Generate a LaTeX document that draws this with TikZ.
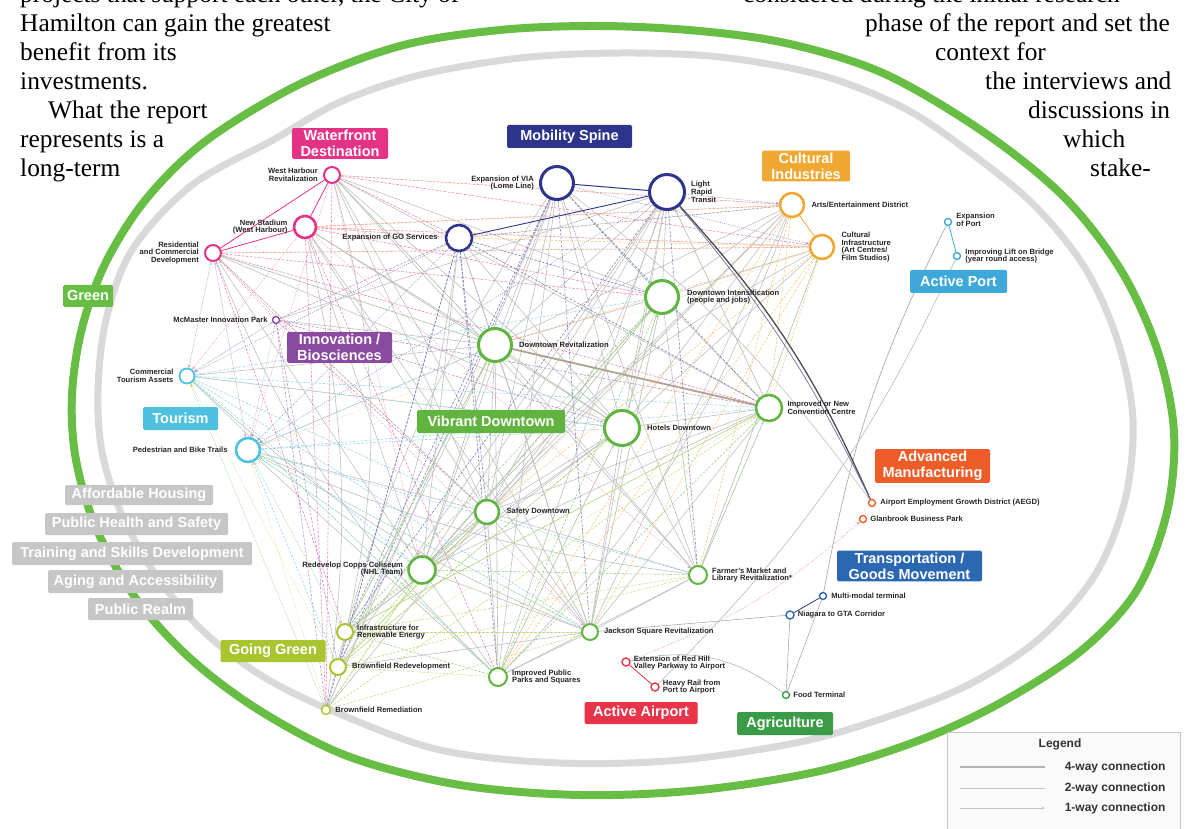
\documentclass[tikz,border=0pt]{standalone}
\usepackage{fontspec}
\setmainfont{Liberation Serif}
\setsansfont{Liberation Sans}
\usetikzlibrary{positioning,arrows.meta,backgrounds}

% theme colours
\definecolor{waterc}{RGB}{228,50,134}
\definecolor{mobc}{RGB}{45,52,140}
\definecolor{culc}{RGB}{240,168,50}
\definecolor{portc}{RGB}{62,168,219}
\definecolor{innoc}{RGB}{138,74,160}
\definecolor{tourc}{RGB}{78,192,224}
\definecolor{vibc}{RGB}{98,180,65}
\definecolor{goc}{RGB}{168,196,46}
\definecolor{airc}{RGB}{230,52,72}
\definecolor{manc}{RGB}{238,92,42}
\definecolor{tranc}{RGB}{44,104,178}
\definecolor{agric}{RGB}{58,156,70}
\definecolor{themec}{RGB}{198,198,198}
\definecolor{ringc}{RGB}{104,190,68}

\newcommand\bodytext{\rmfamily\fontsize{25.4}{29}\selectfont}
\newcommand\projfont{\sffamily\bfseries\fontsize{7.6}{7.8}\selectfont}
\newcommand\catfont{\sffamily\bfseries\fontsize{14.5}{16}\selectfont}
\newcommand\legfont{\sffamily\bfseries\fontsize{12}{13}\selectfont}

\tikzset{
  proj/.style={circle, draw=#1, fill=white, line width=2.6pt, inner sep=0pt},
  spot/.style={circle, draw=#1, fill=white, line width=1.4pt, inner sep=0pt, minimum size=7pt},
  lbl/.style={font=\projfont, inner sep=1pt, text=black!85},
  lblr/.style={lbl, align=left},
  lbll/.style={lbl, align=right},
  cat/.style={fill=#1, text=white, font=\catfont, rounded corners=1.5pt, align=center, inner sep=2pt, minimum height=23pt},
  fourway/.style={draw=gray!50, line width=0.6pt},
  twoway/.style={draw=#1!65, line width=0.55pt, dash pattern=on 2.5pt off 1.5pt},
  oneway/.style={draw=#1!55, line width=0.5pt, dash pattern=on 1pt off 1.2pt, -{Stealth[length=3.2pt,width=2.8pt]}},
  body/.style={font=\bodytext, anchor=base west, inner sep=0pt},
}

\begin{document}
\begin{tikzpicture}[x=1pt, y=-1pt]
\useasboundingbox (0,0) rectangle (1187,829);

% running text of the page
\node[body] at (20,3) {projects that support each other, the City of};
\node[body] at (20,32) {Hamilton can gain the greatest};
\node[body] at (20,61) {benefit from its};
\node[body] at (20,90) {investments.};
\node[body] at (48,119) {What the report};
\node[body] at (20,148) {represents is a};
\node[body] at (20,177) {long-term};
\node[body] at (743,3) {considered during the initial research};
\node[body] at (865,32) {phase of the report and set the};
\node[body] at (935,61) {context for};
\node[body] at (985,90) {the interviews and};
\node[body] at (1028,119) {discussions in};
\node[body] at (1063,148) {which};
\node[body] at (1090,177) {stake-};

% waterfront destination
\node[proj=waterc, minimum size=16pt, line width=2pt] (wh) at (332,175) {};
\node[proj=waterc, minimum size=22pt] (ns) at (305,227) {};
\node[proj=waterc, minimum size=16pt, line width=2pt] (rcd) at (213,253) {};
% mobility spine
\node[proj=mobc, minimum size=26pt] (go) at (459,238) {};
\node[proj=mobc, minimum size=33pt, line width=3pt] (via) at (557,183) {};
\node[proj=mobc, minimum size=35pt, line width=3pt] (lrt) at (667,192) {};
% cultural industries
\node[proj=culc, minimum size=24pt] (arts) at (792,205) {};
\node[proj=culc, minimum size=24pt] (cult) at (822,247) {};
% active port
\node[spot=portc] (port) at (948,222) {};
\node[spot=portc] (lift) at (957,256) {};
% innovation, tourism
\node[spot=innoc] (mip) at (276,320) {};
\node[proj=tourc, minimum size=15pt, line width=1.8pt] (cta) at (187,376) {};
\node[proj=tourc, minimum size=24pt] (pbt) at (248,450) {};
% vibrant downtown
\node[proj=vibc, minimum size=33pt, line width=3pt] (di) at (662,297) {};
\node[proj=vibc, minimum size=33pt, line width=3pt] (dr) at (495,345) {};
\node[proj=vibc, minimum size=35pt, line width=3pt] (hd) at (622,428) {};
\node[proj=vibc, minimum size=26pt] (cc) at (769,408) {};
\node[proj=vibc, minimum size=24pt] (sd) at (487,512) {};
\node[proj=vibc, minimum size=27pt] (copps) at (422,570) {};
\node[proj=vibc, minimum size=18pt, line width=2pt] (fm) at (698,575) {};
\node[proj=vibc, minimum size=16pt, line width=2pt] (js) at (590,632) {};
\node[proj=vibc, minimum size=18pt, line width=2pt] (parks) at (498,677) {};
% going green
\node[proj=goc, minimum size=16pt, line width=2pt] (ire) at (345,632) {};
\node[proj=goc, minimum size=16pt, line width=2pt] (brd) at (338,667) {};
\node[spot=goc, minimum size=9pt] (brm) at (326,710) {};
% airport, manufacturing, goods movement, agriculture
\node[spot=airc, minimum size=8pt] (rh) at (626,662) {};
\node[spot=airc, minimum size=8pt] (hr) at (655,687) {};
\node[spot=manc] (aegd) at (872,503) {};
\node[spot=manc] (glan) at (863,519) {};
\node[spot=tranc] (mmt) at (823,596) {};
\node[spot=tranc, minimum size=8pt] (niag) at (790,615) {};
\node[spot=agric] (food) at (786,695) {};

% project labels
\node[lbll, left=4pt of wh] {West Harbour\\Revitalization};
\node[lbll, left=4pt of ns] {New Stadium\\(West Harbour)};
\node[lbll, left=4pt of rcd] {Residential\\and Commercial\\Development};
\node[lbll, left=6pt of go] {Expansion of GO Services};
\node[lbll, left=4pt of via] {Expansion of VIA\\(Lome Line)};
\node[lblr, right=4pt of lrt] {Light\\Rapid\\Transit};
\node[lblr, right=5pt of arts] {Arts/Entertainment District};
\node[lblr, right=5pt of cult] {Cultural\\Infrastructure\\(Art Centres/\\Film Studios)};
\node[lblr, right=3pt of port, yshift=2pt] {Expansion\\of Port};
\node[lblr, right=3pt of lift] {Improving Lift on Bridge\\(year round access)};
\node[lbll, left=3pt of mip] {McMaster Innovation Park};
\node[lbll, left=4pt of cta] {Commercial\\Tourism Assets};
\node[lbll, left=6pt of pbt] {Pedestrian and Bike Trails};
\node[lblr, right=6pt of di] {Downtown Intensification\\(people and jobs)};
\node[lblr, right=5pt of dr] {Downtown Revitalization};
\node[lblr, right=5pt of hd] {Hotels Downtown};
\node[lblr, right=3pt of cc] {Improved or New\\Convention Centre};
\node[lblr, right=5pt of sd] {Safety Downtown};
\node[lbll, left=3pt of copps, yshift=1pt] {Redevelop Copps Coliseum\\(NHL Team)};
\node[lblr, right=3pt of fm] {Farmer's Market and\\Library Revitalization*};
\node[lblr, right=4pt of js] {Jackson Square Revitalization};
\node[lblr, right=3pt of parks] {Improved Public\\Parks and Squares};
\node[lblr, right=2pt of ire] {Infrastructure for\\Renewable Energy};
\node[lblr, right=4pt of brd] {Brownfield Redevelopment};
\node[lblr, right=3pt of brm] {Brownfield Remediation};
\node[lblr, right=2pt of rh, yshift=-1pt] {Extension of Red Hill\\Valley Parkway to Airport};
\node[lblr, right=2pt of hr] {Heavy Rail from\\Port to Airport};
\node[lblr, right=3pt of aegd] {Airport Employment Growth District (AEGD)};
\node[lblr, right=2pt of glan] {Glanbrook Business Park};
\node[lblr, right=3pt of mmt] {Multi-modal terminal};
\node[lblr, right=2pt of niag] {Niagara to GTA Corridor};
\node[lblr, right=2pt of food] {Food Terminal};

% theme boxes
\node[cat=waterc, minimum width=96pt] (waterbox) at (340,143.5) {Waterfront\\Destination};
\node[cat=mobc, minimum width=125pt] (mobbox) at (569.5,136.5) {Mobility Spine};
\node[cat=culc, minimum width=88pt] (culbox) at (806,166) {Cultural\\Industries};
\node[cat=portc, minimum width=97pt] (portbox) at (958.5,281.5) {Active Port};
\node[cat=innoc, minimum width=105pt] (innobox) at (339.5,347.5) {Innovation /\\Biosciences};
\node[cat=tourc, minimum width=75pt] (tourbox) at (180.5,418.5) {Tourism};
\node[cat=vibc, minimum width=148pt] (vibbox) at (491,421.5) {Vibrant Downtown};
\node[cat=goc, minimum width=105pt, minimum height=22pt] (gobox) at (273,651) {Going Green};
\node[cat=airc, minimum width=113pt, minimum height=22pt] (airbox) at (641,713) {Active Airport};
\node[cat=manc, minimum width=115pt] (manbox) at (932.5,466) {Advanced\\Manufacturing};
\node[cat=tranc, minimum width=145pt] (tranbox) at (909.5,566) {Transportation /\\Goods Movement};
\node[cat=agric, minimum width=96pt] (agribox) at (785,723.5) {Agriculture};
\node[cat=ringc, minimum width=50pt, minimum height=22pt] (greenbox) at (88,296) {Green};

% cross-cutting themes over the ring
\node[cat=themec, minimum width=148pt, minimum height=20pt] (housing) at (139,495) {Affordable Housing};
\node[cat=themec, minimum width=183pt, minimum height=22pt] (health) at (136.5,524) {Public Health and Safety};
\node[cat=themec, minimum width=240pt] (skills) at (132,553.5) {Training and Skills Development};
\node[cat=themec, minimum width=175pt] (aging) at (135.5,581.5) {Aging and Accessibility};
\node[cat=themec, minimum width=105pt, minimum height=22pt] (realm) at (140.5,609) {Public Realm};

% legend
\node[draw=gray!45, fill=gray!4, minimum width=233pt, minimum height=100pt] (legend) at (1063.5,782) {};
\node[font=\legfont, text=black!80] (legtitle) at (1060,744) {Legend};
\coordinate (l4a) at (960,767); \coordinate (l4b) at (1045,767);
\coordinate (l2a) at (960,788); \coordinate (l2b) at (1045,788);
\coordinate (l1a) at (960,808); \coordinate (l1b) at (1045,808);
\draw[gray!60, line width=1.3pt] (l4a) -- (l4b);
\draw[gray!50, line width=0.9pt] (l2a) -- (l2b);
\draw[gray!45, line width=0.6pt, -{Stealth[length=3.5pt,width=3pt]}] (l1a) -- (l1b);
\node[font=\legfont, text=black!80, anchor=east] at (1169,767) {4-way connection};
\node[font=\legfont, text=black!80, anchor=east] at (1169,788) {2-way connection};
\node[font=\legfont, text=black!80, anchor=east] at (1169,808) {1-way connection};

\begin{pgfonlayer}{background}
% outer rings
\draw[ringc, line width=8pt] plot[smooth cycle, tension=0.55] coordinates {
  (207,140) (300,84) (400,46) (500,30) (600,26) (700,31) (790,44) (885,74)
  (985,133) (1065,198) (1122,272) (1158,352) (1174,432) (1167,512) (1137,590)
  (1082,650) (1002,702) (920,740) (820,771) (700,790) (580,795) (460,785)
  (350,757) (262,712) (192,660) (137,600) (97,530) (76,460) (72,395)
  (82,328) (106,262) (147,198)};
\draw[gray!30, line width=7pt] plot[smooth cycle, tension=0.55] coordinates {
  (273,140) (340,102) (420,75) (520,58) (620,53) (720,57) (820,75) (900,106)
  (960,145) (1032,203) (1085,268) (1118,342) (1133,420) (1125,500) (1095,575)
  (1040,638) (970,684) (890,716) (800,742) (680,760) (560,763) (440,750)
  (335,712) (262,676) (202,630) (156,575) (122,515) (102,452) (98,390)
  (106,320) (132,250) (192,185)};

% four-way links
\foreach \a/\b in {wh/dr, wh/di, wh/hd, wh/sd, wh/js, wh/fm, wh/cc,
    ns/dr, ns/hd, ns/copps, ns/sd, ns/js, rcd/dr, rcd/hd, rcd/copps,
    go/dr, go/hd, go/js, go/copps, via/dr, via/hd, via/sd, via/copps, via/parks, via/fm,
    lrt/dr, lrt/di, lrt/hd, lrt/sd, lrt/copps, lrt/js, lrt/parks, lrt/cc, lrt/brd,
    arts/dr, arts/hd, arts/js, arts/copps, arts/sd, arts/di, cult/di, cult/hd, cult/fm,
    di/dr, di/hd, di/cc, di/sd, di/copps, di/js, di/fm,
    dr/hd, dr/sd, dr/copps, dr/fm, dr/js, dr/parks,
    hd/cc, hd/sd, hd/copps, hd/fm, hd/js, hd/parks, cc/sd, cc/fm, cc/js, cc/copps,
    sd/copps, sd/fm, sd/js, sd/parks, copps/js, copps/parks, fm/js, fm/parks, js/parks,
    cta/dr, cta/hd, pbt/dr, pbt/sd, pbt/parks, mip/dr, mip/lrt,
    ire/dr, ire/hd, brd/dr, brd/js, brm/sd, brm/via}
  \draw[fourway] (\a) -- (\b);
\foreach \a/\b/\n in {wh/brd/14, ns/brm/10, rcd/parks/-12, lrt/ire/18, arts/parks/12,
    via/brm/-10, pbt/fm/-8, cta/js/-10, go/brm/8, cult/copps/-10}
  \draw[fourway] (\a) to[bend left=\n] (\b);
\draw[fourway, line width=1.8pt, draw=brown!40!gray!75] (dr) -- (cc);

% two-way links, coloured by theme
\foreach \a/\b in {wh/go, wh/arts, wh/cult, ns/go, ns/cult, ns/arts, ns/di, ns/parks,
    rcd/cult, rcd/cc, rcd/di, rcd/sd, rcd/ire, wh/brm, ns/brm}
  \draw[twoway=waterc] (\a) -- (\b);
\foreach \a/\b in {go/di, go/cc, go/sd, go/brd, go/brm, via/di, via/cc, via/js,
    lrt/fm, lrt/ire, via/ire, go/parks, go/arts, via/brd}
  \draw[twoway=mobc] (\a) -- (\b);
\foreach \a/\b in {arts/cc, arts/fm, arts/parks, cult/cc, cult/dr, cult/sd, cult/js,
    cult/parks, cult/go, arts/ns}
  \draw[twoway=culc] (\a) -- (\b);
\foreach \a/\b in {di/parks, di/brd, dr/ire, hd/brd, cc/parks, cc/ire, sd/brd, fm/copps,
    js/ire, parks/ire, copps/ire, copps/brm, sd/ire, di/ire}
  \draw[twoway=vibc] (\a) -- (\b);
\foreach \a/\b in {cta/sd, cta/copps, cta/parks, cta/cc, cta/js, pbt/hd, pbt/cc, pbt/fm,
    pbt/js, pbt/copps, pbt/brd, cta/di}
  \draw[twoway=tourc] (\a) -- (\b);
\foreach \a/\b in {mip/hd, mip/go, mip/brd, mip/brm, mip/cc, mip/sd}
  \draw[twoway=innoc] (\a) -- (\b);
\foreach \a/\b in {ire/cc, ire/fm, ire/js, brd/hd, brd/sd, brd/fm, brm/js, brm/cc,
    brm/copps, brd/parks}
  \draw[twoway=goc] (\a) -- (\b);

% one-way links
\foreach \a/\b/\c in {rcd/cta/waterc, ns/cta/waterc, wh/pbt/waterc, rcd/pbt/waterc,
    wh/copps/waterc, rcd/js/waterc, ns/fm/waterc,
    go/cta/mobc, go/pbt/mobc, lrt/pbt/mobc, via/cult/mobc, lrt/arts/mobc,
    arts/wh/culc, cult/rcd/culc, cult/ns/culc, arts/go/culc, cult/pbt/culc, arts/brd/culc,
    dr/wh/vibc, dr/rcd/vibc, hd/ns/vibc, di/via/vibc, cc/lrt/vibc, sd/rcd/vibc,
    js/pbt/vibc, fm/cult/vibc, parks/cta/vibc, copps/pbt/vibc,
    cta/rcd/tourc, pbt/rcd/tourc, cta/mip/tourc, pbt/ire/tourc, cta/brm/tourc,
    mip/cta/innoc, mip/pbt/innoc, mip/rcd/innoc,
    brm/pbt/goc, ire/pbt/goc, brd/cta/goc, brm/cta/goc,
    sd/di/vibc, copps/dr/vibc, parks/hd/vibc, fm/cc/vibc, js/di/vibc, ire/dr/goc,
    pbt/dr/tourc, cta/hd/tourc, brd/cc/goc, hd/di/vibc}
  \draw[oneway=\c] (\a) -- (\b);

% links within the themes and out to the edge of the map
\draw[waterc, line width=0.8pt] (wh) -- (ns);
\draw[waterc, line width=0.8pt] (wh) -- (rcd);
\draw[waterc, line width=0.8pt] (ns) -- (rcd);
\draw[mobc, line width=1pt] (via) -- (lrt);
\draw[mobc, line width=0.9pt] (go) -- (lrt);
\draw[culc, line width=0.8pt] (arts) -- (cult);
\draw[portc, line width=0.8pt] (port) -- (lift);
\draw[gray!65, line width=0.7pt] (port) to[bend right=8] (mmt);
\draw[gray!55, line width=0.6pt] (hr) to[bend right=10] (lift);
\draw[gray!60!black, line width=1.3pt] (lrt) to[bend left=9] (aegd);
\draw[mobc!70, line width=0.7pt] (lrt) to[bend left=7] (aegd);
\draw[gray!50, line width=0.6pt] (via) to[bend left=8] (aegd);
\draw[oneway=airc] (rh) to[bend right=10] (glan);
\draw[airc, line width=0.8pt] (rh) -- (hr);
\draw[gray!60, line width=0.6pt] (rh) to[bend left=25] (food);
\draw[mobc, line width=0.8pt] (niag) -- (mmt);
\draw[gray!65, line width=0.6pt] (js) -- (niag);
\draw[gray!65, line width=0.6pt] (niag) -- (food);
\draw[gray!65, line width=0.6pt] (mmt) -- (food);
\end{pgfonlayer}
\end{tikzpicture}
\end{document}
